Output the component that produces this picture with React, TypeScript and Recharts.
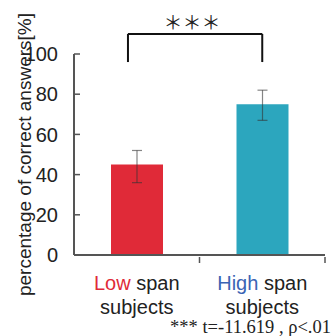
import React from 'react';
import {
  BarChart,
  Bar,
  Cell,
  XAxis,
  YAxis,
  ErrorBar,
  ReferenceLine,
} from 'recharts';

const groups = ['Low', 'High'];
const groupColors = ['#e02a38', '#2ca6be'];
const groupWordColors = ['#e02a38', '#3a64b4'];
const positions = [0.5, 1.5];
const means = [45, 75];
const errors = [[9, 7], [8, 7]];
const yTicks = [0, 20, 40, 60, 80, 100];
const xBounds = [0, 1, 2];
const bracketEnds = [0.43, 1.5];
const bracketTop = 110;
const bracketFoot = 96;

const data = groups.map((g, i) => ({
  group: g,
  x: positions[i],
  value: means[i],
  err: errors[i],
}));

const font = '"Liberation Sans", Arial, sans-serif';

function XTick(props: any) {
  const { x, y, payload } = props;
  const v = payload.value;
  if (xBounds.includes(v)) {
    if (v === 0) return null;
    return <line x1={x} x2={x} y1={y} y2={y - 6} stroke="#555" strokeWidth={1.5} />;
  }
  const i = positions.indexOf(v);
  if (i < 0) return null;
  return (
    <text x={x} y={y} textAnchor="middle" fontFamily={font} fontSize={20} fill="#222">
      <tspan x={x} dy={27}>
        <tspan fill={groupWordColors[i]}>{groups[i]}</tspan> span
      </tspan>
      <tspan x={x} dy={24}>subjects</tspan>
    </text>
  );
}

export default function App() {
  return (
    <div style={{ position: 'absolute', left: 0, top: 0, width: 332, height: 336, background: '#fff' }}>
      <BarChart
        width={332}
        height={336}
        data={data}
        margin={{ top: 54, right: 7, bottom: 0, left: 0 }}
        barSize={52}
      >
        <XAxis
          dataKey="x"
          type="number"
          domain={[0, 2]}
          ticks={[0, 0.5, 1, 1.5, 2]}
          interval={0}
          height={81}
          axisLine={{ stroke: '#555', strokeWidth: 2 }}
          tickLine={false}
          tick={<XTick />}
        />
        <YAxis
          type="number"
          domain={[0, 100]}
          ticks={yTicks}
          width={74}
          axisLine={{ stroke: '#555', strokeWidth: 2 }}
          tickLine={{ stroke: '#555', strokeWidth: 1.5 }}
          tickSize={-6}
          tickMargin={22}
          tick={{ fontFamily: font, fontSize: 20, fill: '#222' }}
          label={{
            value: 'percentage of correct answers[%]',
            angle: -90,
            position: 'center',
            dx: -13,
            style: { fontFamily: font, fontSize: 19, fill: '#222', textAnchor: 'middle' },
          }}
        />
        <Bar dataKey="value" isAnimationActive={false}>
          {data.map((d, i) => (
            <Cell key={d.group} fill={groupColors[i]} />
          ))}
          <ErrorBar dataKey="err" width={5} stroke="#333" strokeOpacity={0.6} strokeWidth={1.2} direction="y" />
        </Bar>
        <ReferenceLine
          segment={[{ x: bracketEnds[0], y: bracketFoot }, { x: bracketEnds[0], y: bracketTop }]}
          stroke="#111"
          strokeWidth={2}
          ifOverflow="visible"
        />
        <ReferenceLine
          segment={[{ x: bracketEnds[1], y: bracketFoot }, { x: bracketEnds[1], y: bracketTop }]}
          stroke="#111"
          strokeWidth={2}
          ifOverflow="visible"
        />
        <ReferenceLine
          segment={[{ x: bracketEnds[0], y: bracketTop }, { x: bracketEnds[1], y: bracketTop }]}
          stroke="#111"
          strokeWidth={2}
          ifOverflow="visible"
          label={{
            value: '＊＊＊',
            position: 'top',
            offset: 4,
            dx: -3,
            style: { fontFamily: '"Noto Sans CJK JP", sans-serif', fontSize: 19, fill: '#222' },
          }}
        />
      </BarChart>
      <div
        style={{
          position: 'absolute',
          right: 1,
          top: 320,
          fontFamily: '"Liberation Serif", "Times New Roman", serif',
          fontSize: 18.5,
          color: '#222',
          whiteSpace: 'nowrap',
          lineHeight: '15px',
        }}
      >
        *** t=-11.619 , ρ&lt;.01
      </div>
    </div>
  );
}
